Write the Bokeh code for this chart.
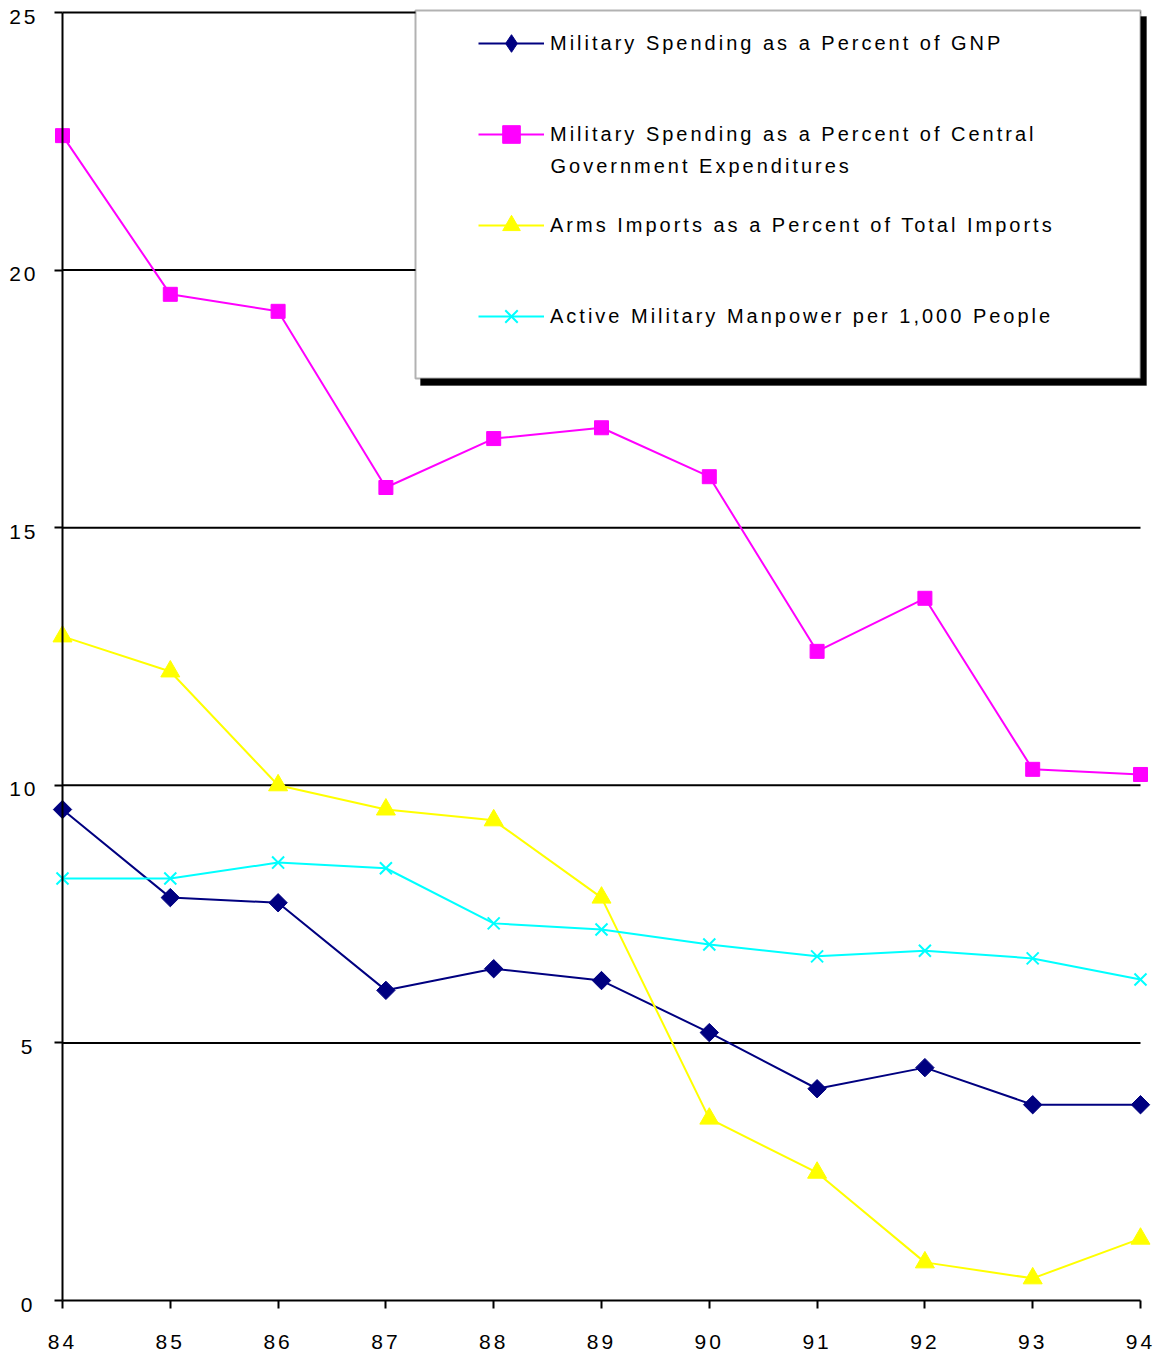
import math

from bokeh.core.properties import value
from bokeh.embed import file_html
from bokeh.models import (BoxAnnotation, FixedTicker, InlineStyleSheet, Label,
                          Legend, LegendItem, LinearAxis, Range1d)
from bokeh.plotting import figure
from bokeh.resources import INLINE

# ---- data -------------------------------------------------------------
years = [84, 85, 86, 87, 88, 89, 90, 91, 92, 93, 94]
year_labels = ["84", "85", "86", "87", "88", "89", "90", "91", "92", "93", "94"]

milex_pct_gnp = [9.53, 7.82, 7.72, 6.02, 6.44, 6.21, 5.20, 4.11, 4.52, 3.80, 3.80]
milex_pct_cge = [22.61, 19.53, 19.20, 15.78, 16.73, 16.94, 15.99, 12.60, 13.63, 10.31, 10.21]
arms_pct_imports = [12.89, 12.21, 10.00, 9.53, 9.32, 7.82, 3.53, 2.48, 0.74, 0.43, 1.20]
manpower_per_1000 = [8.19, 8.19, 8.50, 8.39, 7.32, 7.20, 6.91, 6.68, 6.79, 6.64, 6.23]

y_ticks = [0, 5, 10, 15, 20, 25]
y_tick_labels = ["0", "5", "10", "15", "20", "25"]
grid_ticks = [5, 10, 15, 20, 25]

series_names = [
    "Military Spending as a Percent of GNP",
    "Military Spending as a Percent of Central",
    "Arms Imports as a Percent of Total Imports",
    "Active Military Manpower per 1,000 People",
]
second_line = "Government Expenditures"

NAVY, MAGENTA, YELLOW, CYAN = "#000080", "#FF00FF", "#FFFF00", "#00FFFF"
FONT = "Liberation Sans"

# ---- layout (canvas pixels) ------------------------------------------
# The plotting frame covers the whole canvas; both axes are pinned to
# the data origin (84, 0) so the end markers are never cut off.
W, H = 1156, 1355
X0_PX, X1_PX = 62, 1140          # where the first and last year sit
Y0_PX, YTOP_PX = 1300, 12        # where 0 and 25 sit

px_per_year = (X1_PX - X0_PX) / (years[-1] - years[0])
px_per_unit = (Y0_PX - YTOP_PX) / (y_ticks[-1] - y_ticks[0])

x_range = Range1d(years[0] - X0_PX / px_per_year,
                  years[-1] + (W - X1_PX) / px_per_year)
y_range = Range1d(y_ticks[0] - (H - Y0_PX) / px_per_unit,
                  y_ticks[-1] + YTOP_PX / px_per_unit)

p = figure(
    width=W, height=H, x_range=x_range, y_range=y_range,
    x_axis_location=None, y_axis_location=None,
    output_backend="svg", toolbar_location=None,
    min_border_left=0, min_border_right=0,
    min_border_top=0, min_border_bottom=0,
)
p.outline_line_color = None
p.background_fill_color = "white"
p.border_fill_color = "white"
p.grid.visible = False

# axis lines and tick marks; the tick numbers are set as text below
axis_style = dict(
    axis_line_color="black", axis_line_width=2,
    major_tick_line_color="black", major_tick_line_width=2,
    major_tick_in=0, major_tick_out=8,
    minor_tick_in=0, minor_tick_out=0,
    major_label_text_color=None,
)
xaxis = LinearAxis(fixed_location=y_ticks[0], ticker=FixedTicker(ticks=years),
                   bounds=(years[0], years[-1]), **axis_style)
p.add_layout(xaxis, "below")
yaxis = LinearAxis(fixed_location=years[0], ticker=FixedTicker(ticks=y_ticks),
                   bounds=(y_ticks[0], y_ticks[-1]), **axis_style)
p.add_layout(yaxis, "left")

tick_font = dict(text_font=value(FONT), text_font_size="21px", text_color="black")
p.text(x=years, y=y_ticks[0], text=year_labels, x_offset=-3, y_offset=41,
       text_align="center", text_baseline="middle", **tick_font)
p.text(x=years[0], y=y_ticks, text=y_tick_labels, x_offset=-30, y_offset=4,
       text_align="right", text_baseline="middle", **tick_font)

# horizontal rules between the first and last year
p.segment(x0=years[0], x1=years[-1], y0=grid_ticks, y1=grid_ticks,
          line_color="black", line_width=2, level="underlay")

# ---- series -----------------------------------------------------------
l1 = p.line(years, milex_pct_gnp, line_color=NAVY, line_width=2)
m1 = p.scatter(years, milex_pct_gnp, marker="square", angle=math.pi / 4, size=13,
               fill_color=NAVY, line_color=NAVY)
# legend key for the diamonds (the legend never rotates its markers)
k1 = p.scatter([math.nan], [math.nan], marker="diamond", size=13,
               fill_color=NAVY, line_color=NAVY)

l2 = p.line(years, milex_pct_cge, line_color=MAGENTA, line_width=2)
m2 = p.scatter(years, milex_pct_cge, marker="square", size=14,
               fill_color=MAGENTA, line_color=MAGENTA)

l3 = p.line(years, arms_pct_imports, line_color=YELLOW, line_width=2)
m3 = p.scatter(years, arms_pct_imports, marker="triangle", size=19,
               fill_color=YELLOW, line_color=YELLOW)

l4 = p.line(years, manpower_per_1000, line_color=CYAN, line_width=2)
m4 = p.scatter(years, manpower_per_1000, marker="x", size=17,
               line_color=CYAN, line_width=2)

# ---- legend box with drop shadow ----------------------------------------
canvas_units = dict(left_units="canvas", right_units="canvas",
                    top_units="canvas", bottom_units="canvas")
shadow = BoxAnnotation(left=420, right=1146, top=16, bottom=385,
                       fill_color="black", fill_alpha=1,
                       line_color="black", line_width=1, **canvas_units)
box = BoxAnnotation(left=415, right=1140, top=10, bottom=378,
                    fill_color="white", fill_alpha=1,
                    line_color="black", line_width=2, **canvas_units)
p.add_layout(shadow)
p.add_layout(box)

ITEM_H, PITCH, FIRST_Y = 44, 91, 43
legend_bottom = FIRST_Y - ITEM_H / 2 + 4 * ITEM_H + 3 * (PITCH - ITEM_H)
legend = Legend(
    items=[
        LegendItem(label=series_names[0], renderers=[l1, k1]),
        LegendItem(label=series_names[1], renderers=[l2, m2]),
        LegendItem(label=series_names[2], renderers=[l3, m3]),
        LegendItem(label=series_names[3], renderers=[l4, m4]),
    ],
    location=(478, H - legend_bottom),
    orientation="vertical",
    glyph_width=66, glyph_height=ITEM_H, label_height=ITEM_H,
    spacing=PITCH - ITEM_H, padding=0, margin=0, label_standoff=6,
    border_line_color=None, background_fill_alpha=0,
    label_text_font=FONT, label_text_font_size="20px",
    label_text_color="black",
)
p.add_layout(legend)

p.add_layout(Label(x=550, y=H - 165, x_units="screen", y_units="screen",
                   text=second_line, text_baseline="middle",
                   text_font=FONT, text_font_size="20px", text_color="black"))

# the lettering is widely tracked
p.stylesheets = [InlineStyleSheet(css=":host { letter-spacing: 3px; }")]

open("out.html", "w").write(file_html(p, INLINE))
